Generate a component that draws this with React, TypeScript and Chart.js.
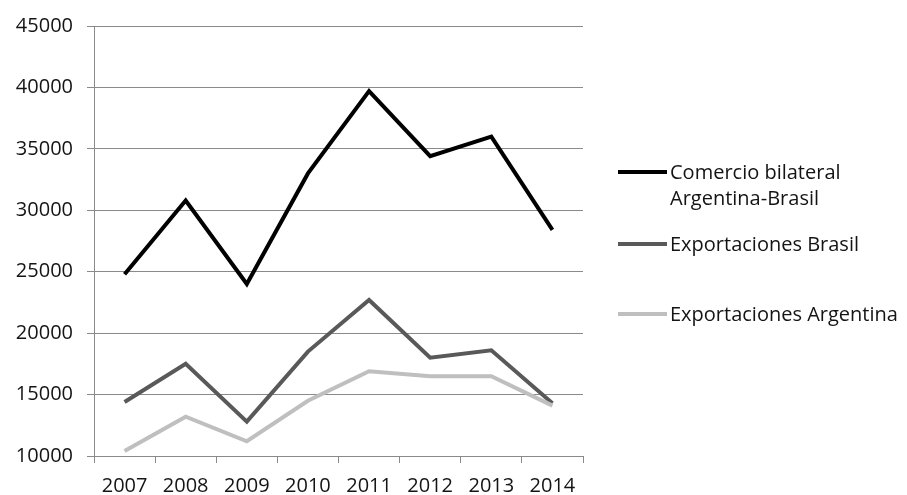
import React, { useEffect, useRef } from "react";
import { Chart, registerables } from "chart.js";

Chart.register(...registerables);

const years = ["2007", "2008", "2009", "2010", "2011", "2012", "2013", "2014"];
const comercioBilateral = [24800, 30800, 24000, 33000, 39700, 34400, 36000, 28400];
const exportacionesBrasil = [14400, 17500, 12800, 18500, 22700, 18000, 18600, 14300];
const exportacionesArgentina = [10400, 13200, 11200, 14500, 16900, 16500, 16500, 14100];
const yTicks = [10000, 15000, 20000, 25000, 30000, 35000, 40000, 45000];

const seriesLabels = [
  ["Comercio bilateral", "Argentina-Brasil"],
  ["Exportaciones Brasil"],
  ["Exportaciones Argentina"],
];
const seriesColors = ["#000000", "#595959", "#bfbfbf"];

const FONT = "'Open Sans', sans-serif";
const TEXT_COLOR = "#141414";
const GRID_COLOR = "#8a8a8a";

// Legend drawn beside the plot: a short line sample followed by the label text.
const sideLegend = {
  id: "sideLegend",
  afterDraw(chart: any) {
    const ctx = chart.ctx as CanvasRenderingContext2D;
    const rows = [172, 244, 314];
    ctx.save();
    ctx.font = `20px ${FONT}`;
    ctx.textAlign = "left";
    ctx.textBaseline = "middle";
    seriesLabels.forEach((lines, i) => {
      const y = rows[i];
      ctx.strokeStyle = seriesColors[i];
      ctx.lineWidth = 4;
      ctx.beginPath();
      ctx.moveTo(618, y);
      ctx.lineTo(667, y);
      ctx.stroke();
      ctx.fillStyle = TEXT_COLOR;
      lines.forEach((t, j) => ctx.fillText(t, 670, y + 1 + j * 26));
    });
    ctx.restore();
  },
};

export default function App() {
  const canvasRef = useRef<HTMLCanvasElement | null>(null);

  useEffect(() => {
    const canvas = canvasRef.current;
    if (!canvas) return;
    const chart = new Chart(canvas, {
      type: "line",
      data: {
        labels: years,
        datasets: [
          { label: seriesLabels[0].join(" "), data: comercioBilateral, borderColor: seriesColors[0], order: 3 },
          { label: seriesLabels[1].join(" "), data: exportacionesBrasil, borderColor: seriesColors[1], order: 2 },
          { label: seriesLabels[2].join(" "), data: exportacionesArgentina, borderColor: seriesColors[2], order: 1 },
        ].map((d) => ({
          ...d,
          borderWidth: 4,
          pointRadius: 0,
          tension: 0,
          fill: false,
        })),
      },
      options: {
        animation: false,
        responsive: false,
        maintainAspectRatio: false,
        layout: { padding: { top: 25, right: 324, bottom: 0, left: 0 } },
        plugins: { legend: { display: false }, tooltip: { enabled: false } },
        scales: {
          x: {
            type: "category",
            offset: true,
            grid: {
              offset: true,
              drawOnChartArea: false,
              drawTicks: true,
              tickLength: 7,
              color: GRID_COLOR,
            },
            border: { display: true, color: GRID_COLOR, width: 1 },
            ticks: {
              color: TEXT_COLOR,
              font: { family: FONT, size: 20 },
              padding: 11,
              maxRotation: 0,
            },
            afterFit: (scale: any) => {
              scale.height = 39;
            },
          },
          y: {
            min: yTicks[0],
            max: yTicks[yTicks.length - 1],
            afterBuildTicks: (scale: any) => {
              scale.ticks = yTicks.map((v) => ({ value: v }));
            },
            grid: { color: GRID_COLOR, tickLength: 7, lineWidth: 1 },
            border: { display: true, color: GRID_COLOR, width: 1 },
            ticks: {
              color: TEXT_COLOR,
              font: { family: FONT, size: 20 },
              padding: 14,
              callback: (v: any) => String(v),
            },
            afterFit: (scale: any) => {
              scale.width = 94;
            },
          },
        },
      },
      plugins: [sideLegend],
    });
    return () => chart.destroy();
  }, []);

  return (
    <div style={{ position: "fixed", left: 0, top: 0, width: 907, height: 495, background: "#ffffff" }}>
      <canvas ref={canvasRef} width={907} height={495} style={{ display: "block" }} />
    </div>
  );
}
